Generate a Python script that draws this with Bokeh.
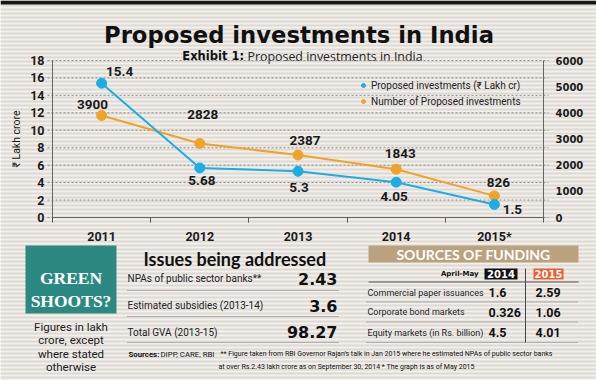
from bokeh.plotting import figure
from bokeh.models import (Range1d, LinearAxis, FixedTicker, ColumnDataSource,
                          Legend, LegendItem)
from bokeh.core.properties import value
from bokeh.embed import file_html
from bokeh.resources import INLINE

# ---------------- data ----------------
title_text = "Proposed investments in India"
exhibit_bold = "Exhibit 1:"
exhibit_text = "Proposed investments in India"

years = ["2011", "2012", "2013", "2014", "2015*"]
invest_lakh_cr = [15.4, 5.68, 5.3, 4.05, 1.5]
invest_count = [3900, 2828, 2387, 1843, 826]
left_ticks = [0, 2, 4, 6, 8, 10, 12, 14, 16, 18]
right_ticks = [0, 1000, 2000, 3000, 4000, 5000, 6000]
left_axis_title = "₹ Lakh crore"
series_names = ["Proposed investments (₹ Lakh cr)", "Number of Proposed investments"]

green_title = ["GREEN", "SHOOTS?"]
green_note = ["Figures in lakh", "crore, except", "where stated", "otherwise"]

issues_title = "Issues being addressed"
issues_labels = ["NPAs of public sector banks**", "Estimated subsidies (2013-14)",
                 "Total GVA (2013-15)"]
issues_values = [2.43, 3.6, 98.27]

funding_title = "SOURCES OF FUNDING"
funding_period = "April-May"
funding_years = ["2014", "2015"]
funding_labels = ["Commercial paper issuances", "Corporate bond markets",
                  "Equity markets (in Rs. billion)"]
funding_2014 = [1.6, 0.326, 4.5]
funding_2015 = [2.59, 1.06, 4.01]

sources_bold = "Sources:"
sources_text = "DIPP, CARE, RBI"
footnote_1 = ("** Figure taken from RBI Governor Rajan\u2019s talk in Jan 2015 where he "
              "estimated NPAs of public sector banks")
footnote_2 = "at over Rs.2.43 lakh crore as on September 30, 2014  * The graph is as of May 2015"

# ---------------- styles ----------------
BLUE = "#1badE6"
ORANGE = "#f2a327"
TEAL = "#2b8982"
TAN = "#bba27f"
RED = "#f15a29"
INK = "#1a1a1a"
PAPER = "#f3f1ec"
STRIPE = "#dedad3"
SANS = value("Roboto")
HEAVY = value("DejaVu Sans")

BLUE_OFFSETS = ([18, 2, 1, -2, 18], [-12, 13, 16, 14, 5])
ORANGE_OFFSETS = ([-9, 3, 7, 4, 4], [-11, -29, -15, -16, -13])

# page-pixel layout (reference coordinates)
X0, X1, Y0, Y1 = 0, 596, 0, 380
CL, CR = 52, 543          # chart frame left/right
CB, CT = 217, 60          # chart value-zero / top-tick rows

p = figure(width=X1 - X0, height=Y1 - Y0, x_range=Range1d(X0, X1), y_range=Range1d(Y1, Y0),
           output_backend="svg", toolbar_location=None, min_border=0,
           x_axis_type=None, y_axis_type=None, outline_line_color=None,
           background_fill_color=PAPER, border_fill_color=PAPER)

# striped paper + dark top band
stripe_rows = list(range(Y0 + 1, Y1, 4))
p.segment(x0=[X0] * len(stripe_rows), x1=[X1] * len(stripe_rows), y0=stripe_rows, y1=stripe_rows,
          line_color=STRIPE, line_width=2)
p.quad(left=[X0], right=[X1], top=[0], bottom=[4], fill_color="#151515", line_color=None)

# ---------------- header ----------------
p.text(x=[298.5], y=[34], text=[title_text], text_font=HEAVY, text_font_style="bold",
       text_font_size="22.7px", text_align="center", text_baseline="alphabetic", text_color="#111111")
p.text(x=[243.5], y=[55.5], text=[exhibit_bold], text_font=HEAVY, text_font_style="bold",
       text_font_size="11.5px", text_align="right", text_baseline="alphabetic", text_color="#111111")
p.text(x=[247], y=[55.5], text=[exhibit_text], text_font=value("Open Sans"),
       text_font_size="12.4px", text_align="left", text_baseline="alphabetic", text_color="#222222")

# ---------------- chart (own scales mapped onto the chart area) ----------------
n = len(years)
xs = list(range(1, n + 1))
ppx = (CR - CL) / n
lmax, rmax = left_ticks[-1], right_ticks[-1]
ppl = (CB - CT) / lmax
ppr = (CB - CT) / rmax
p.extra_x_ranges = {"cx": Range1d(0.5 - (CL - X0) / ppx, n + 0.5 + (X1 - CR) / ppx)}
p.extra_y_ranges = {"left": Range1d(-(Y1 - CB) / ppl, lmax + (CT - Y0) / ppl),
                    "right": Range1d(-(Y1 - CB) / ppr, rmax + (CT - Y0) / ppr)}

# grid lines (slightly beyond both axes, as in the original)
ext = 5 / ppx
p.segment(x0=[0.5 - ext] * len(left_ticks), x1=[n + 0.5 + ext] * len(left_ticks),
          y0=left_ticks, y1=left_ticks, x_range_name="cx", y_range_name="left",
          line_color="#8c8c8c", line_dash="2 2", line_width=1)

xax = LinearAxis(x_range_name="cx", y_range_name="left", fixed_location=0, bounds=(0.5, n + 0.5),
                 ticker=FixedTicker(ticks=xs, minor_ticks=[x - 0.5 for x in xs] + [n + 0.5]))
xax.major_label_overrides = {x: y for x, y in zip(xs, years)}
xax.major_tick_line_color = None
xax.minor_tick_line_color = "#555555"
xax.minor_tick_in = 0
xax.minor_tick_out = 5
xax.axis_line_color = "#666666"
xax.major_label_standoff = 5
xax.major_label_text_font = "Roboto"
xax.major_label_text_font_style = "bold"
xax.major_label_text_font_size = "12.5px"
xax.major_label_text_color = INK
p.add_layout(xax, "below")

lax = LinearAxis(x_range_name="cx", y_range_name="left", fixed_location=0.5, bounds=(0, lmax),
                 ticker=FixedTicker(ticks=left_ticks))
lax.axis_label = left_axis_title
lax.axis_label_text_font = "Roboto"
lax.axis_label_text_font_style = "normal"
lax.axis_label_text_font_size = "10.5px"
lax.axis_label_standoff = 4
lax.axis_label_text_color = INK
lax.major_label_standoff = 8
lax.major_label_text_font = "Roboto"
lax.major_label_text_font_size = "12.5px"
p.add_layout(lax, "left")

rax = LinearAxis(x_range_name="cx", y_range_name="right", fixed_location=n + 0.5,
                 bounds=(0, rmax), ticker=FixedTicker(ticks=right_ticks))
rax.major_label_standoff = 12
rax.major_label_text_font = "DejaVu Sans"
rax.major_label_text_font_size = "10px"
p.add_layout(rax, "right")

for ax in [lax, rax]:
    ax.major_tick_in = 0
    ax.major_tick_out = 0
    ax.major_tick_line_color = None
    ax.minor_tick_line_color = None
    ax.axis_line_color = "#666666"
    ax.major_label_text_font_style = "bold"
    ax.major_label_text_color = INK

src = ColumnDataSource(dict(
    x=xs, inv=invest_lakh_cr, cnt=invest_count,
    inv_lbl=[f"{v:g}" for v in invest_lakh_cr], cnt_lbl=[str(v) for v in invest_count],
    bdx=BLUE_OFFSETS[0], bdy=BLUE_OFFSETS[1], odx=ORANGE_OFFSETS[0], ody=ORANGE_OFFSETS[1]))

p.line("x", "cnt", source=src, x_range_name="cx", y_range_name="right",
       line_color=ORANGE, line_width=2)
s_o = p.scatter("x", "cnt", source=src, x_range_name="cx", y_range_name="right", size=10,
                fill_color=ORANGE, line_color=ORANGE)
p.line("x", "inv", source=src, x_range_name="cx", y_range_name="left",
       line_color=BLUE, line_width=2)
s_b = p.scatter("x", "inv", source=src, x_range_name="cx", y_range_name="left", size=10,
                fill_color=BLUE, line_color=BLUE)

p.text("x", "inv", text="inv_lbl", source=src, x_range_name="cx", y_range_name="left",
       x_offset="bdx", y_offset="bdy", text_font=SANS, text_font_style="bold",
       text_font_size="13.5px", text_align="center", text_baseline="middle", text_color=INK)
p.text("x", "cnt", text="cnt_lbl", source=src, x_range_name="cx", y_range_name="right",
       x_offset="odx", y_offset="ody", text_font=SANS, text_font_style="bold",
       text_font_size="13.5px", text_align="center", text_baseline="middle", text_color=INK)

legend = Legend(items=[LegendItem(label=series_names[0], renderers=[s_b]),
                       LegendItem(label=series_names[1], renderers=[s_o])],
                location=(358, 273), glyph_width=10, glyph_height=12, label_height=12,
                label_width=10, spacing=4, padding=0, margin=0, label_standoff=3,
                background_fill_alpha=0, border_line_color=None,
                label_text_font="Roboto", label_text_font_size="10px",
                label_text_color="#222222")
p.add_layout(legend)

# ---------------- bottom panels ----------------
# green box
p.quad(left=[25], right=[116], top=[245], bottom=[313], fill_color=TEAL, line_color=None)
p.text(x=[70.5, 70.5], y=[277, 300], text=green_title, text_font=value("Liberation Serif"),
       text_font_style="bold", text_font_size="17.5px", text_align="center",
       text_baseline="alphabetic", text_color="white")
p.text(x=[70.5] * 4, y=[326, 339.5, 353, 366], text=green_note, text_font=SANS,
       text_font_size="11.5px", text_align="center", text_baseline="middle", text_color="#222222")

# issues table
p.text(x=[143], y=[258], text=[issues_title], text_font=value("Lato"), text_font_style="bold",
       text_font_size="18px", text_align="left", text_baseline="alphabetic", text_color="#111111")
row_y = [278, 305, 331.5]
p.text(x=[127] * 3, y=row_y, text=issues_labels, text_font=SANS, text_font_size="10px",
       text_align="left", text_baseline="middle", text_color="#222222")
p.text(x=[337] * 3, y=row_y, text=[f"{v:g}" for v in issues_values], text_font=HEAVY,
       text_font_style="bold", text_font_size="16px", text_align="right",
       text_baseline="middle", text_color="#111111")
p.segment(x0=[127] * 3, x1=[338] * 3, y0=[290, 316, 342], y1=[290, 316, 342],
          line_color="#777777", line_dash="1 1", line_width=1)

# funding table
p.quad(left=[368], right=[578], top=[245], bottom=[262], fill_color=TAN, line_color=None)
p.text(x=[473], y=[253.8], text=[funding_title], text_font=value("Lato"), text_font_style="bold",
       text_font_size="14px", text_align="center", text_baseline="middle", text_color="white")
p.text(x=[478], y=[273.5], text=[funding_period], text_font=HEAVY,
       text_font_style="bold", text_font_size="7px", text_align="right",
       text_baseline="middle", text_color="#111111")
p.quad(left=[484, 533], right=[517, 563], top=[268, 268], bottom=[279, 279],
       fill_color=["#111111", RED], line_color=None)
p.text(x=[500.5, 548], y=[273.8, 273.8], text=funding_years, text_font=HEAVY,
       text_font_style="bold", text_font_size="10px", text_align="center",
       text_baseline="middle", text_color="white")
p.segment(x0=[525], x1=[525], y0=[268], y1=[342], line_color="#444444", line_width=1)
p.segment(x0=[368], x1=[578], y0=[281.5], y1=[281.5], line_color="#555555", line_width=1)
p.segment(x0=[366] * 3, x1=[578] * 3, y0=[301.5, 321.5, 342], y1=[301.5, 321.5, 342],
          line_color="#777777", line_dash="1 1", line_width=1)
frow_y = [292, 311.5, 332]
p.text(x=[367] * 3, y=frow_y, text=funding_labels, text_font=SANS, text_font_size="9px",
       text_align="left", text_baseline="middle", text_color="#222222")
p.text(x=[488] * 3, y=frow_y, text=[f"{v:g}" for v in funding_2014], text_font=SANS,
       text_font_style="bold", text_font_size="12.5px", text_align="left",
       text_baseline="middle", text_color="#111111")
p.text(x=[535] * 3, y=frow_y, text=[f"{v:g}" for v in funding_2015], text_font=SANS,
       text_font_style="bold", text_font_size="12.5px", text_align="left",
       text_baseline="middle", text_color="#111111")

# sources
p.text(x=[128], y=[353.5], text=[sources_bold], text_font=SANS, text_font_style="bold",
       text_font_size="7.8px", text_align="left", text_baseline="middle", text_color="#111111")
p.text(x=[160], y=[353.5], text=[sources_text], text_font=SANS,
       text_font_size="7.8px", text_align="left", text_baseline="middle", text_color="#111111")
p.text(x=[220, 218], y=[353.5, 366.5], text=[footnote_1, footnote_2], text_font=SANS,
       text_font_size="7px", text_align="left", text_baseline="middle", text_color="#111111")

open("out.html", "w").write(file_html(p, INLINE))
